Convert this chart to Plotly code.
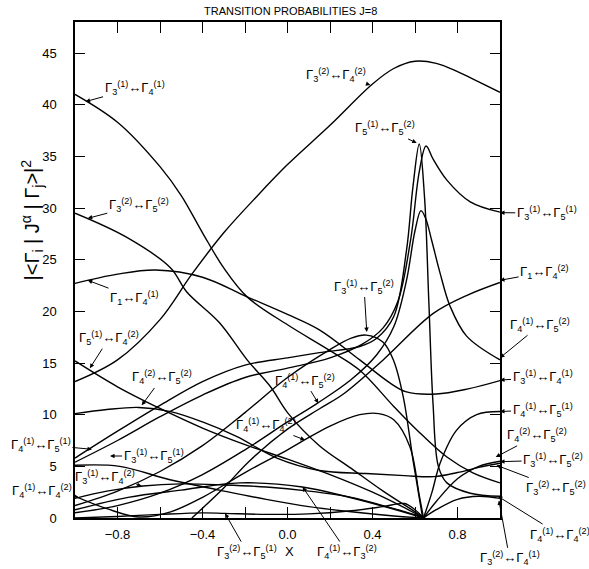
import plotly.graph_objects as go

# ---------------- data ----------------
x_g32_g42 = [-1, -0.8, -0.6, -0.45, -0.3, -0.15, 0, 0.2, 0.4, 0.5, 0.6, 0.7, 0.8, 0.9, 1]
y_g32_g42 = [13.2, 15.3, 19.2, 23.6, 27.6, 31.0, 34.2, 38.0, 42.0, 43.5, 44.2, 44.0, 43.2, 42.2, 41.2]

x_g31_g41 = [-1, -0.8, -0.6, -0.5, -0.4, -0.3, -0.19, 0, 0.2, 0.34, 0.5, 0.61, 0.75, 0.87, 1]
y_g31_g41 = [41.0, 38.3, 34.0, 31.2, 27.6, 24.2, 21.4, 18.7, 16.2, 14.3, 10.8, 8.5, 5.9, 4.4, 3.4]

x_g1_g41 = [-1, -0.8, -0.62, -0.4, -0.19, 0, 0.15, 0.34, 0.48, 0.56, 0.7, 0.85, 1]
y_g1_g41 = [22.7, 23.6, 24.0, 23.3, 21.4, 19.7, 18.2, 15.3, 13.1, 12.2, 12.0, 12.5, 13.3]

x_g32_g52 = [-1, -0.76, -0.55, -0.475, -0.32, -0.19, -0.08, 0, 0.15, 0.3, 0.45, 0.6, 0.64]
y_g32_g52 = [29.5, 27.2, 24.2, 21.9, 18.9, 15.3, 12.7, 10.2, 7.0, 4.8, 2.6, 0.6, 0]

x_g51_g42 = [-1, -0.8, -0.6, -0.4, -0.2, 0, 0.2, 0.4, 0.55, 0.64]
y_g51_g42 = [15.2, 12.7, 10.6, 8.7, 7.1, 5.7, 4.2, 2.5, 1.0, 0]

x_g42_g52 = [-1, -0.85, -0.7, -0.55, -0.4, -0.24, -0.05, 0.15, 0.37, 0.55, 0.69, 0.8, 0.9, 1]
y_g42_g52 = [10.1, 10.5, 10.7, 10.3, 9.3, 7.9, 5.8, 4.6, 4.3, 4.1, 4.0, 4.4, 4.9, 5.3]

x_g51_g52 = [-1, -0.8, -0.6, -0.4, -0.2, 0, 0.15, 0.34, 0.42, 0.5, 0.56, 0.59, 0.62, 0.645, 0.665, 0.685, 0.71, 0.75, 0.86, 1]
y_g51_g52 = [5.8, 8.4, 10.9, 13.2, 14.8, 15.5, 16.0, 16.6, 17.4, 19.5, 25.9, 32.0, 36.2, 31.0, 21.0, 11.0, 5.0, 3.4, 2.4, 2.1]

x_g31_g51 = [-1, -0.8, -0.6, -0.4, -0.2, 0, 0.2, 0.35, 0.45, 0.52, 0.58, 0.62, 0.652, 0.686, 0.75, 0.86, 1]
y_g31_g51 = [5.4, 7.5, 9.8, 11.9, 13.6, 14.5, 15.5, 16.8, 18.4, 21.0, 27.0, 33.5, 36.0, 34.7, 32.7, 30.6, 29.6]

x_g31_g52 = [-1, -0.8, -0.6, -0.4, -0.2, 0, 0.2, 0.3, 0.37, 0.45, 0.5, 0.545, 0.593, 0.636]
y_g31_g52 = [1.2, 2.6, 4.5, 7.0, 10.2, 13.6, 16.3, 17.4, 17.7, 17.0, 15.2, 11.7, 5.3, 0]

x_g41_g52 = [-1, -0.8, -0.6, -0.4, -0.2, 0, 0.14, 0.3, 0.42, 0.5, 0.56, 0.6, 0.628, 0.65, 0.678, 0.718, 0.765, 0.843, 1]
y_g41_g52 = [0.5, 1.2, 2.4, 4.2, 6.6, 9.3, 11.1, 13.4, 15.8, 18.5, 23.0, 27.8, 29.75, 29.0, 26.9, 23.7, 20.5, 17.6, 15.3]

x_g1_g42 = [-0.45, -0.3, -0.18, 0, 0.153, 0.263, 0.45, 0.686, 0.85, 1]
y_g1_g42 = [0, 2.9, 5.5, 8.6, 10.6, 12.0, 15.3, 19.8, 21.6, 22.8]

x_g41_g51 = [-1, -0.79, -0.553, -0.32, -0.1, 0.1, 0.3, 0.5, 0.64]
y_g41_g51 = [5.1, 5.0, 3.7, 2.7, 1.8, 1.1, 0.6, 0.2, 0]

x_g31_g42 = [-1, -0.85, -0.68, -0.5, -0.3, -0.1, 0.1, 0.3, 0.45, 0.6, 0.64]
y_g31_g42 = [1.9, 2.6, 3.1, 3.3, 3.2, 3.0, 2.6, 2.0, 1.2, 0.3, 0]

x_g41_g42 = [-1, -0.85, -0.7, -0.55, -0.4, -0.2, 0, 0.08, 0.2, 0.34, 0.43, 0.5, 0.576, 0.62, 0.64]
y_g41_g42 = [2.1, 0.9, 0.1, 0.6, 2.0, 4.4, 6.6, 7.55, 8.9, 10.0, 10.1, 9.5, 6.9, 2.2, 0]

x_g32_g51 = [-1, -0.8, -0.6, -0.4, -0.294, -0.1, 0.1, 0.3, 0.45, 0.55, 0.6, 0.64]
y_g32_g51 = [0, 0.15, 0.35, 0.5, 0.45, 0.35, 0.4, 0.7, 1.1, 1.4, 0.8, 0]

x_g41_g32 = [-1, -0.75, -0.5, -0.224, 0.07, 0.28, 0.51, 0.64]
y_g41_g32 = [0.8, 2.0, 2.7, 3.4, 3.0, 2.06, 0.8, 0]

x_g31_g52b = [0.64, 0.7, 0.8, 0.9, 1]
y_g31_g52b = [0, 1.6, 3.8, 5.0, 5.5]

x_g41_g51b = [0.64, 0.68, 0.718, 0.796, 0.89, 1]
y_g41_g51b = [0, 2.5, 5.3, 8.5, 10.0, 10.3]

x_g32_g41 = [0.64, 0.7, 0.8, 0.9, 1]
y_g32_g41 = [0, 0.8, 1.8, 2.1, 1.9]

curves = [
    ("Γ3(2)↔Γ4(2)", x_g32_g42, y_g32_g42),
    ("Γ3(1)↔Γ4(1)", x_g31_g41, y_g31_g41),
    ("Γ1↔Γ4(1)", x_g1_g41, y_g1_g41),
    ("Γ3(2)↔Γ5(2)", x_g32_g52, y_g32_g52),
    ("Γ5(1)↔Γ4(2)", x_g51_g42, y_g51_g42),
    ("Γ4(2)↔Γ5(2)", x_g42_g52, y_g42_g52),
    ("Γ5(1)↔Γ5(2)", x_g51_g52, y_g51_g52),
    ("Γ3(1)↔Γ5(1)", x_g31_g51, y_g31_g51),
    ("Γ3(1)↔Γ5(2)", x_g31_g52, y_g31_g52),
    ("Γ4(1)↔Γ5(2)", x_g41_g52, y_g41_g52),
    ("Γ1↔Γ4(2)", x_g1_g42, y_g1_g42),
    ("Γ4(1)↔Γ5(1)", x_g41_g51, y_g41_g51),
    ("Γ3(1)↔Γ4(2)", x_g31_g42, y_g31_g42),
    ("Γ4(1)↔Γ4(2)", x_g41_g42, y_g41_g42),
    ("Γ3(2)↔Γ5(1)", x_g32_g51, y_g32_g51),
    ("Γ4(1)↔Γ3(2)", x_g41_g32, y_g41_g32),
    ("Γ3(1)↔Γ5(2) b", x_g31_g52b, y_g31_g52b),
    ("Γ4(1)↔Γ5(1) b", x_g41_g51b, y_g41_g51b),
    ("Γ3(2)↔Γ4(1)", x_g32_g41, y_g32_g41),
]

x_tickvals = [-1.0, -0.8, -0.6, -0.4, -0.2, 0.0, 0.2, 0.4, 0.6, 0.8, 1.0]
x_ticktext = ["", "−0.8", "", "−0.4", "", "0.0", "", "0.4", "", "0.8", ""]
y_tickvals = [0, 5, 10, 15, 20, 25, 30, 35, 40, 45]

def G(a, b=None):
    s = "Γ<sub>%s</sub>" % a
    if b:
        s += "<sup>(%s)</sup>" % b
    return s

# label text, tip (x, y), label centre (x, y)
labels = [
    (G(3, 1) + "↔" + G(4, 1), -0.95, 40.3, -0.72, 41.6),
    (G(3, 2) + "↔" + G(5, 2), -0.94, 29.0, -0.70, 30.3),
    (G(1) + "↔" + G(4, 1), -0.94, 23.0, -0.72, 21.3),
    (G(5, 1) + "↔" + G(4, 2), -0.93, 14.5, -0.84, 17.4),
    (G(4, 2) + "↔" + G(5, 2), -0.686, 10.9, -0.59, 13.6),
    (G(4, 1) + "↔" + G(5, 1), -0.92, 6.65, -1.16, 7.1),
    (G(3, 1) + "↔" + G(5, 1), -0.835, 6.0, -0.63, 6.0),
    (G(4, 1) + "↔" + G(4, 2), -0.985, 2.05, -1.155, 2.6),
    (G(3, 1) + "↔" + G(4, 2), -0.686, 3.1, -0.86, 4.0),
    (G(4, 1) + "↔" + G(5, 2), 0.145, 11.1, 0.08, 13.3),
    (G(4, 1) + "↔" + G(4, 2), 0.082, 7.55, -0.10, 9.0),
    (G(3, 1) + "↔" + G(5, 2), 0.373, 18.0, 0.36, 22.4),
    (G(3, 2) + "↔" + G(4, 2), 0.39, 41.9, 0.23, 42.9),
    (G(5, 1) + "↔" + G(5, 2), 0.608, 36.3, 0.46, 37.7),
    (G(3, 1) + "↔" + G(5, 1), 1.0, 29.55, 1.22, 29.5),
    (G(1) + "↔" + G(4, 2), 1.0, 23.0, 1.21, 23.8),
    (G(4, 1) + "↔" + G(5, 2), 1.0, 15.5, 1.19, 18.7),
    (G(3, 1) + "↔" + G(4, 1), 1.0, 13.35, 1.20, 13.6),
    (G(4, 1) + "↔" + G(5, 1), 1.0, 10.3, 1.20, 10.5),
    (G(4, 2) + "↔" + G(5, 2), 0.98, 5.9, 1.175, 8.0),
    (G(3, 1) + "↔" + G(5, 2), 1.0, 5.45, 1.25, 5.6),
    (G(3, 2) + "↔" + G(5, 2), 0.984, 5.1, 1.265, 2.9),
    (G(4, 1) + "↔" + G(4, 2), 0.99, 2.1, 1.28, -1.6),
    (G(3, 2) + "↔" + G(4, 1), 0.995, 1.7, 1.045, -3.9),
    (G(3, 2) + "↔" + G(5, 1), -0.294, 0.45, -0.19, -3.3),
    (G(4, 1) + "↔" + G(3, 2), 0.071, 3.0, 0.28, -3.3),
]

# ---------------- figure ----------------
fig = go.Figure()
for name, xs, ys in curves:
    fig.add_trace(go.Scatter(x=xs, y=ys, mode="lines", name=name,
                             line=dict(color="black", width=1.4, shape="spline", smoothing=1.0),
                             showlegend=False))

FONT = "Liberation Sans"
ann = []
for text, tx, ty, lx, ly in labels:
    ann.append(dict(x=tx, y=ty, ax=lx, ay=ly, xref="x", yref="y", axref="x", ayref="y",
                    text=text, showarrow=True, arrowhead=2, arrowsize=0.9, arrowwidth=1,
                    arrowcolor="black", font=dict(family=FONT, size=13, color="black")))

ann.append(dict(xref="paper", yref="paper", x=0.508, y=1.022, xanchor="center", yanchor="middle",
                text="TRANSITION PROBABILITIES J=8",
                showarrow=False, font=dict(family=FONT, size=11, color="black")))
ann.append(dict(xref="paper", yref="paper", x=-0.101, y=0.6, xanchor="center", yanchor="middle",
                textangle=-90,
                text="|<Γ<sub>i</sub> | J<sup>α</sup> | Γ<sub>j</sub>>|<sup>2</sup>",
                showarrow=False, font=dict(family=FONT, size=20, color="black")))
ann.append(dict(xref="paper", yref="paper", x=0.504, y=-0.0685, xanchor="center", yanchor="middle",
                text="X", showarrow=False, font=dict(family=FONT, size=13, color="black")))

fig.update_layout(
    width=589, height=569,
    margin=dict(l=75, r=89, t=22, b=51),
    paper_bgcolor="white", plot_bgcolor="white",
    annotations=ann,
    xaxis=dict(range=[-1, 1], tickvals=x_tickvals, ticktext=x_ticktext,
               ticks="inside", ticklen=11, tickwidth=1.3, tickcolor="black",
               showline=True, linecolor="black", linewidth=1.5, mirror="ticks",
               showgrid=False, zeroline=False, ticklabelstandoff=4,
               tickfont=dict(family=FONT, size=13, color="black")),
    yaxis=dict(range=[0, 48], tickvals=y_tickvals,
               ticks="inside", ticklen=10, tickwidth=1.3, tickcolor="black",
               showline=True, linecolor="black", linewidth=1.5, mirror="ticks",
               showgrid=False, zeroline=False, ticklabelstandoff=14,
               tickfont=dict(family=FONT, size=13, color="black")),
)

fig.write_html("out.html")
